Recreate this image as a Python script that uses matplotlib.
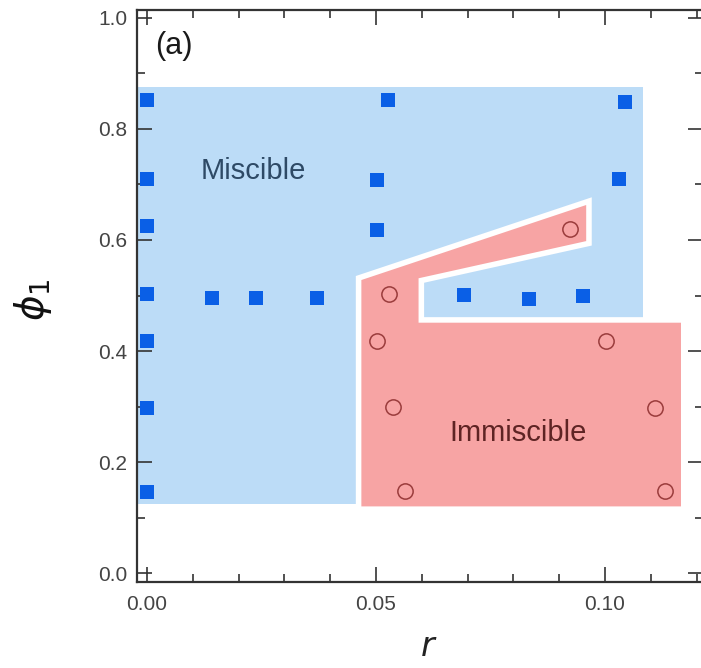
import matplotlib
matplotlib.use("Agg")
import matplotlib.pyplot as plt
from matplotlib.patches import Polygon, Rectangle
from matplotlib.ticker import MultipleLocator

plt.rcParams['font.family'] = ['Liberation Sans', 'DejaVu Sans']
plt.rcParams['mathtext.fontset'] = 'dejavusans'

# ---- data ----
miscible_r = [0.0, 0.0, 0.0, 0.0, 0.0, 0.0, 0.0,
              0.0142, 0.0238, 0.0371,
              0.0526, 0.0502, 0.0502,
              0.0692, 0.0834, 0.0952,
              0.1044, 0.1030]
miscible_phi = [0.852, 0.710, 0.625, 0.503, 0.418, 0.297, 0.146,
                0.495, 0.495, 0.495,
                0.852, 0.708, 0.618,
                0.501, 0.494, 0.499,
                0.849, 0.710]

immiscible_r = [0.0528, 0.0502, 0.0537, 0.0563, 0.0924, 0.1002, 0.1110, 0.1130]
immiscible_phi = [0.503, 0.418, 0.299, 0.148, 0.620, 0.418, 0.297, 0.148]

# region boundaries (r, phi)
miscible_box_r = [-0.0025, 0.1083]
miscible_box_phi = [0.124, 0.876]
immiscible_region_r = [0.0462, 0.0965, 0.0965, 0.0599, 0.0599, 0.1172, 0.1172, 0.0462]
immiscible_region_phi = [0.5315, 0.670, 0.594, 0.527, 0.456, 0.456, 0.115, 0.115]

x_major = [0.0, 0.05, 0.10]
x_labels = ['0.00', '0.05', '0.10']
y_major = [0.0, 0.2, 0.4, 0.6, 0.8, 1.0]
y_labels = ['0.0', '0.2', '0.4', '0.6', '0.8', '1.0']

W, H = 701, 668
fig = plt.figure(figsize=(W / 100, H / 100), dpi=100)
L, R, T, B = 137, 703, 10, 582
ax = fig.add_axes([L / W, 1 - B / H, (R - L) / W, (B - T) / H])
ax.set_xlim(-0.00218, (R - 147) / 4580)
ax.set_ylim(-0.0162, 1.0144)

# regions
ax.add_patch(Rectangle((miscible_box_r[0], miscible_box_phi[0]),
                       miscible_box_r[1] - miscible_box_r[0],
                       miscible_box_phi[1] - miscible_box_phi[0],
                       facecolor='#bcdcf7', edgecolor='none', zorder=1))
ax.add_patch(Polygon(list(zip(immiscible_region_r, immiscible_region_phi)), closed=True,
                     facecolor='#f7a4a4', edgecolor='white', linewidth=4.0,
                     joinstyle='miter', zorder=2))

ax.plot(miscible_r, miscible_phi, linestyle='none', marker='s', markersize=10,
        markerfacecolor='#0a5fe6', markeredgewidth=0, zorder=3)
ax.plot(immiscible_r, immiscible_phi, linestyle='none', marker='o', markersize=11,
        markerfacecolor='none', markeredgecolor='#9a3c3c', markeredgewidth=1.1, zorder=3)

ax.set_xticks(x_major)
ax.set_xticklabels(x_labels)
ax.set_yticks(y_major)
ax.set_yticklabels(y_labels)
ax.xaxis.set_minor_locator(MultipleLocator(0.01))
ax.yaxis.set_minor_locator(MultipleLocator(0.1))
ax.tick_params(which='both', direction='in', top=True, right=True, color='#333333',
               width=1.2, labelsize=15, labelcolor='#444444')
ax.tick_params(which='major', length=11)
ax.tick_params(which='minor', length=6)
ax.tick_params(axis='x', pad=9)
ax.tick_params(axis='y', pad=7)
for s in ax.spines.values():
    s.set_linewidth(1.6)
    s.set_color('#333333')

def fpos(px, py):
    return px / W, 1 - py / H

ax.text(*fpos(174, 46), '(a)', transform=fig.transFigure, fontsize=22,
        ha='center', va='center', color='#1a1a1a')
ax.text(*fpos(253, 171), 'Miscible', transform=fig.transFigure, fontsize=21,
        ha='center', va='center', color='#2e4a66')
ax.text(*fpos(518, 433), 'Immiscible', transform=fig.transFigure, fontsize=21,
        ha='center', va='center', color='#5e2424')

fig.text(*fpos(33, 300), r'$\phi_1$', fontsize=28, rotation=90,
         ha='center', va='center', color='#111111')
fig.text(*fpos(429, 648), r'$r$', fontsize=24, ha='center', va='center', color='#222222')

fig.savefig('out.png', dpi=100)
